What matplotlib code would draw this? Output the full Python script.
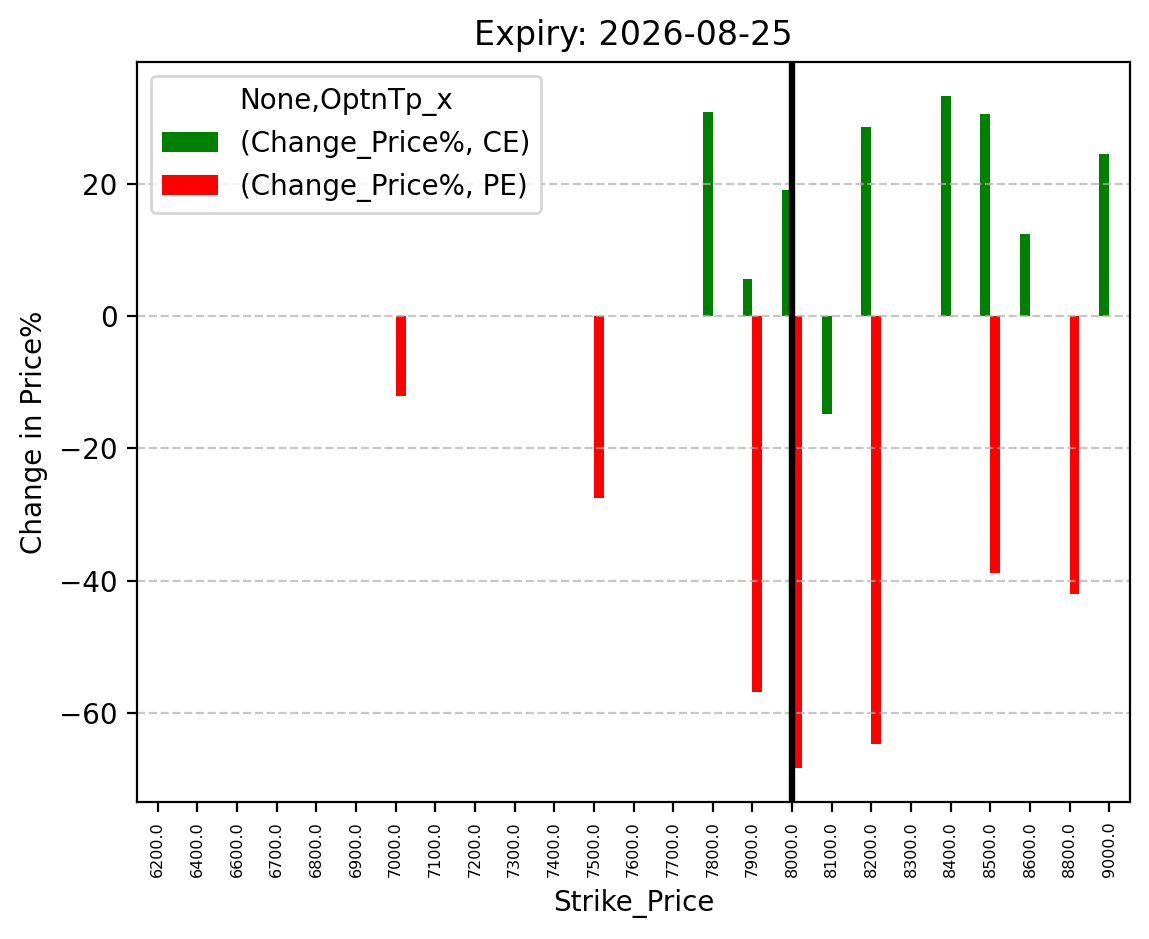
import numpy as np
import matplotlib
matplotlib.use("Agg")
import matplotlib.pyplot as plt

# strike prices on the x axis
strikes = [6200.0, 6400.0, 6600.0, 6700.0, 6800.0, 6900.0, 7000.0, 7100.0, 7200.0,
           7300.0, 7400.0, 7500.0, 7600.0, 7700.0, 7800.0, 7900.0, 8000.0, 8100.0,
           8200.0, 8300.0, 8400.0, 8500.0, 8600.0, 8800.0, 9000.0]
nan = np.nan
# change in price %, calls (CE) and puts (PE)
ce_change = [nan, nan, nan, nan, nan, nan, nan, nan, nan,
             nan, nan, nan, nan, nan, 30.9, 5.6, 19.1, -14.9,
             28.6, nan, 33.3, 30.5, 12.4, nan, 24.5]
pe_change = [nan, nan, nan, nan, nan, nan, -12.1, nan, nan,
             nan, nan, -27.6, nan, nan, nan, -56.8, -68.4, nan,
             -64.7, nan, nan, -38.8, nan, -42.0, nan]
spot_strike = 8000.0
expiry = "2026-08-25"

fig = plt.figure(figsize=(1149 / 200, 939 / 200), dpi=200)
ax = fig.add_axes([137 / 1149, 137 / 939, 993 / 1149, 740 / 939])

x = np.arange(len(strikes))
w = 0.25
ax.bar(x - w / 2, ce_change, w, color="green", label="(Change_Price%, CE)")
ax.bar(x + w / 2, pe_change, w, color="red", label="(Change_Price%, PE)")

ax.set_xticks(x)
ax.set_xticklabels([str(s) for s in strikes], rotation=90, fontsize="xx-small")
ax.set_xlim(-0.525, len(strikes) - 0.475)

# mark the at-the-money strike
ax.axvline(strikes.index(spot_strike), color="black", linewidth=2.3)

ax.grid(axis="y", linestyle="--", alpha=0.7)
ax.set_xlabel("Strike_Price")
ax.set_ylabel("Change in Price%")
ax.set_title("Expiry: " + expiry)
ax.legend(title="None,OptnTp_x", loc="upper left")

fig.savefig("out.png", dpi=200)
